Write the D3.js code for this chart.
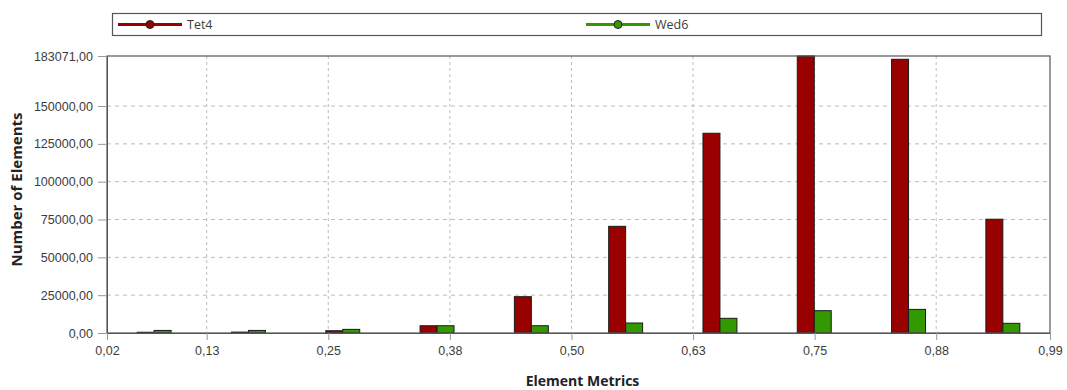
<!DOCTYPE html>
<html>
<head>
<meta charset="utf-8">
<script src="https://cdn.jsdelivr.net/npm/d3@7"></script>
<style>
  html, body { margin: 0; padding: 0; background: #fff; }
  svg { display: block; font-family: "Open Sans", "Noto Sans", sans-serif; }
</style>
</head>
<body>
<svg id="chart" width="1067" height="390"></svg>
<script>
// Element quality histogram: bin range and per-bin element counts
const metricMin = 0.0225;
const metricMax = 0.992;
const binCount = 10;
const seriesNames = ["Tet4", "Wed6"];
const tet4Counts = [500, 600, 1500, 4800, 24000, 70500, 132000, 183071, 180900, 75200];
const wed6Counts = [1700, 1700, 2400, 4800, 4800, 6600, 9700, 14750, 15600, 6400];
const yTickValues = [0, 25000, 50000, 75000, 100000, 125000, 150000, 183071];
const xTickValues = [0.0225, 0.125, 0.25, 0.375, 0.5, 0.625, 0.75, 0.875, 0.992];
const xTitle = "Element Metrics";
const yTitle = "Number of Elements";

const colors = { Tet4: "#990000", Wed6: "#339900" };
const fmt = v => d3.format(".2f")(v).replace(".", ",");

const svg = d3.select("#chart");
const margin = { left: 107, right: 17, top: 56, bottom: 57 };
const W = 1067, H = 390;
const pw = W - margin.left - margin.right;
const ph = H - margin.top - margin.bottom;

const x = d3.scaleLinear().domain([metricMin, metricMax]).range([0, pw]);
const yMax = d3.max(tet4Counts.concat(wed6Counts));
const y = d3.scaleLinear().domain([0, yMax]).range([ph, 0]);

const g = svg.append("g").attr("transform", `translate(${margin.left},${margin.top})`);

// dashed grid
g.append("g").selectAll("line").data(xTickValues.slice(1, -1)).join("line")
  .attr("x1", d => x(d)).attr("x2", d => x(d)).attr("y1", 0).attr("y2", ph)
  .attr("stroke", "#bdbdbd").attr("stroke-dasharray", "3,3");
g.append("g").selectAll("line").data(yTickValues.slice(1, -1)).join("line")
  .attr("x1", 0).attr("x2", pw).attr("y1", d => y(d)).attr("y2", d => y(d))
  .attr("stroke", "#bdbdbd").attr("stroke-dasharray", "4,4");

// bins
const binW = (metricMax - metricMin) / binCount;
const bins = d3.range(binCount).map(i => ({
  center: metricMin + (i + 0.5) * binW,
  Tet4: tet4Counts[i],
  Wed6: wed6Counts[i]
}));
const barW = x(metricMin + binW * 0.18) - x(metricMin);
const inner = d3.scaleBand().domain(seriesNames).range([-barW, barW]).padding(0);

const groups = g.append("g").selectAll("g").data(bins).join("g")
  .attr("transform", d => `translate(${x(d.center)},0)`);
groups.selectAll("rect").data(d => seriesNames.map(k => ({ key: k, value: d[k] }))).join("rect")
  .attr("x", d => inner(d.key))
  .attr("width", inner.bandwidth())
  .attr("y", d => y(d.value))
  .attr("height", d => ph - y(d.value))
  .attr("fill", d => colors[d.key])
  .attr("stroke", "#1a1a1a")
  .attr("stroke-width", 1);

// frame
g.append("rect").attr("x", 0).attr("y", 0).attr("width", pw).attr("height", ph)
  .attr("fill", "none").attr("stroke", "#555").attr("stroke-width", 1.2);

// axes
const yAxis = g.append("g")
  .call(d3.axisLeft(y).tickValues(yTickValues).tickFormat(fmt).tickSize(9).tickPadding(5));
yAxis.select(".domain").attr("stroke", "#555");
yAxis.selectAll(".tick line").attr("stroke", "#999");
yAxis.selectAll("text").attr("fill", "#3c3c3c").style("font-size", "12.5px");

const xAxis = g.append("g").attr("transform", `translate(0,${ph})`)
  .call(d3.axisBottom(x).tickValues(xTickValues).tickFormat(fmt).tickSize(7).tickPadding(6));
xAxis.select(".domain").attr("stroke", "#555");
xAxis.selectAll(".tick line").attr("stroke", "#999");
xAxis.selectAll("text").attr("fill", "#3c3c3c").style("font-size", "12.5px");

// axis titles
svg.append("text").attr("x", margin.left + pw / 2 + 4).attr("y", 386)
  .attr("text-anchor", "middle").attr("font-weight", "bold").attr("font-size", 14)
  .attr("fill", "#222").text(xTitle);
svg.append("text").attr("transform", `translate(22,${margin.top + ph / 2 - 5}) rotate(-90)`)
  .attr("text-anchor", "middle").attr("font-weight", "bold").attr("font-size", 15)
  .attr("fill", "#222").text(yTitle);

// legend
const legend = svg.append("g");
legend.append("rect").attr("x", 112.5).attr("y", 13.5).attr("width", 929).attr("height", 22)
  .attr("fill", "#fff").attr("stroke", "#555").attr("stroke-width", 1.2);
const legendX = [118, 586];
seriesNames.forEach((name, i) => {
  const lg = legend.append("g").attr("transform", `translate(${legendX[i]},24.5)`);
  lg.append("line").attr("x1", 0).attr("x2", 64).attr("y1", 0).attr("y2", 0)
    .attr("stroke", colors[name]).attr("stroke-width", 3);
  lg.append("circle").attr("cx", 32).attr("cy", 0).attr("r", 4)
    .attr("fill", colors[name]).attr("stroke", "#222").attr("stroke-width", 1);
  lg.append("text").attr("x", 69).attr("y", 4.5).attr("font-size", 12.5)
    .attr("fill", "#3c3c3c").text(name);
});
</script>
</body>
</html>
